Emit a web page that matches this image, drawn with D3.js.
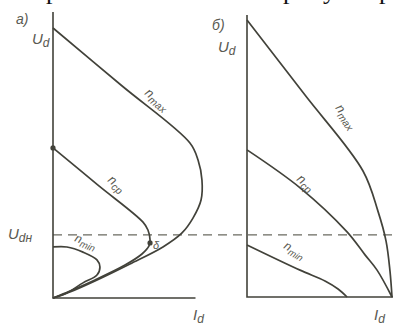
<!DOCTYPE html>
<html>
<head>
<meta charset="utf-8">
<script src="https://cdn.jsdelivr.net/npm/d3@7"></script>
<style>
  body { margin: 0; background: #fff; }
  svg { display: block; }
  .lab { font-family: "Liberation Sans", sans-serif; font-style: italic; fill: #5a5a52; }
</style>
</head>
<body>
<script>

// panel a) : [Id, Ud] in relative units (0..100)
var aMax = [[0,100],[45.7,78.7],[91.3,57.4],[96.7,51.1],[99.3,43.7],[98.7,36.3],[93.3,29.6],[86,24.1],[73.3,18.9],[51.3,12.6],[28,6.3],[11.3,2.2],[0,0]]
var aCp  = [[0,55.6],[30,41.8],[60,28.1],[63.3,25.2],[64.7,21.5],[64,19.3],[59.3,16.3],[48,12.2],[28,6.7],[11.3,2.6],[0,0]]
var aMin = [[0,18.9],[9.3,18.9],[20,17],[29.3,14.1],[31.3,11.5],[29.3,8.5],[20,5.6],[9.3,1.9],[0,0]]
var aPoints = [[0,55.6],[64.7,20.4]]

// panel б)
var bMax = [[0,100],[40,72.9],[80,45.5],[90.3,31],[95.9,20.2],[98.6,9.4],[100,0]]
var bCp  = [[0,53.1],[36.6,39.4],[69,23.5],[81.4,15.2],[89.7,9.7],[100,0]]
var bMin = [[0,18.8],[36.6,9.7],[53.8,5.8],[62.8,2.9],[69,0]]

var udNom = 23.4   // dashed level U_dн (panel a units)

var svg = d3.select("body").append("svg")
          .attr("width", 393)
          .attr("height", 327)

var ink = "#42423a"

// cut-off line of text at the very top
var topText = [["р", 46], ["р", 283], ["у", 323], ["р", 379]]
svg.selectAll(".top").data(topText).enter().append("text")
   .attr("x", function(d) { return d[1] })
   .attr("y", -1)
   .style("font-family", "Liberation Serif")
   .style("font-size", "26px")
   .style("fill", "#111")
   .text(function(d) { return d[0] })

var xa = d3.scaleLinear().domain([0, 100]).range([53, 203])
var ya = d3.scaleLinear().domain([0, 100]).range([298, 28])
var xb = d3.scaleLinear().domain([0, 100]).range([247, 392])
var yb = d3.scaleLinear().domain([0, 100]).range([297, 20])

var curveA = d3.line().x(function(d) { return xa(d[0]) }).y(function(d) { return ya(d[1]) })
              .curve(d3.curveCatmullRom.alpha(0.5))
var curveB = d3.line().x(function(d) { return xb(d[0]) }).y(function(d) { return yb(d[1]) })
              .curve(d3.curveCatmullRom.alpha(0.5))
var straightA = d3.line().x(function(d) { return xa(d[0]) }).y(function(d) { return ya(d[1]) })
var straightB = d3.line().x(function(d) { return xb(d[0]) }).y(function(d) { return yb(d[1]) })

// dashed nominal voltage line across both panels
svg.append("line")
   .attr("x1", xa(0)).attr("x2", 393)
   .attr("y1", ya(udNom)).attr("y2", ya(udNom))
   .attr("stroke", "#6a6a60")
   .attr("stroke-width", 1.2)
   .attr("stroke-dasharray", "9,6")

// axes
svg.append("path").attr("d", straightA([[0,105.9],[0,0],[95,0]]))
   .attr("fill", "none").attr("stroke", ink).attr("stroke-width", 1.6)
svg.append("path").attr("d", straightB([[0,101.8],[0,0],[100.7,0]]))
   .attr("fill", "none").attr("stroke", ink).attr("stroke-width", 1.6)

// curves
;[aMax, aCp, aMin].forEach(function(s) {
  svg.append("path").attr("d", curveA(s))
     .attr("fill", "none").attr("stroke", ink).attr("stroke-width", 1.7)
})
;[bMax, bCp, bMin].forEach(function(s) {
  svg.append("path").attr("d", curveB(s))
     .attr("fill", "none").attr("stroke", ink).attr("stroke-width", 1.7)
})

svg.selectAll(".pt").data(aPoints).enter().append("circle")
   .attr("cx", function(d) { return xa(d[0]) })
   .attr("cy", function(d) { return ya(d[1]) })
   .attr("r", 2.6)
   .attr("fill", ink)

// labels
var lab = function(x, y, main, sub, size, rot) {
  var t = svg.append("text").attr("class", "lab")
             .attr("transform", "translate(" + x + "," + y + ") rotate(" + rot + ")")
             .style("font-size", size + "px")
  t.append("tspan").text(main)
  if (sub) t.append("tspan").attr("dy", 3).style("font-size", (size * 0.8) + "px").text(sub)
}

lab(16, 24, "a)", null, 14, 0)
lab(32, 44, "U", "d", 15, 0)
lab(212, 30, "б)", null, 14, 0)
lab(218, 52, "U", "d", 15, 0)
lab(8, 239, "U", "dн", 15, 0)
lab(193, 320, "I", "d", 15, 0)
lab(374, 320, "I", "d", 15, 0)

lab(144, 94, "n", "max", 13, 40)
lab(107, 181, "n", "cp", 13, 40)
lab(74, 241, "n", "min", 12, 22)
lab(153, 249, "δ", null, 11, 0)

lab(335, 108, "n", "max", 13, 55)
lab(296, 180, "n", "cp", 13, 40)
lab(283, 248, "n", "min", 12, 30)

</script>
</body>
</html>
